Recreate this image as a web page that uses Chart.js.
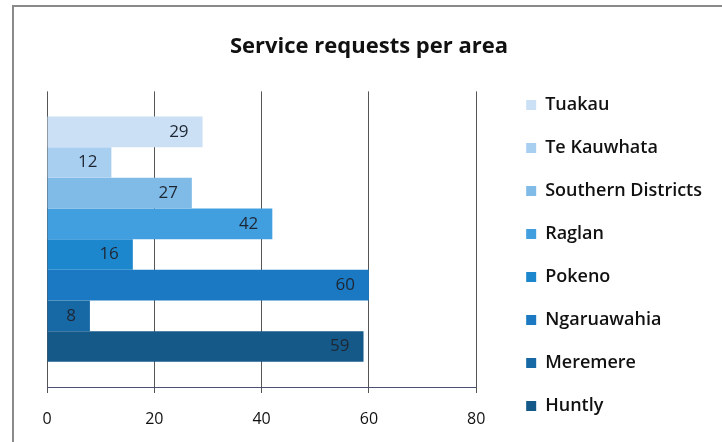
<!DOCTYPE html>
<html>
<head>
<meta charset="utf-8">
<script src="https://cdn.jsdelivr.net/npm/chart.js@4/dist/chart.umd.min.js"></script>
<style>
  body { margin: 0; background: #fff; }
  #wrap { position: relative; width: 722px; height: 442px; overflow: hidden; }
  #frame { position: absolute; left: 12px; top: 5px; width: 800px; height: 500px; border: 2px solid #8a8a8a; }
  #chart { position: absolute; left: 0; top: 0; }
</style>
</head>
<body>
<div id="wrap">
  <div id="frame"></div>
  <canvas id="chart" width="722" height="442"></canvas>
</div>
<script>
const areas = ['Tuakau', 'Te Kauwhata', 'Southern Districts', 'Raglan', 'Pokeno', 'Ngaruawahia', 'Meremere', 'Huntly'];
const requests = [29, 12, 27, 42, 16, 60, 8, 59];
const colours = ['#cbe0f4', '#a9cff0', '#80bbe8', '#419fe0', '#1d87cd', '#1a79c2', '#1769a6', '#145988'];
const xTicks = [0, 20, 40, 60, 80];

// labels at the end of each bar, inside
const barLabels = {
    id: 'barLabels',
    afterDatasetsDraw(chart) {
        const ctx = chart.ctx;
        ctx.save();
        ctx.font = '17px "Open Sans"';
        ctx.fillStyle = '#1e2633';
        ctx.textAlign = 'right';
        ctx.textBaseline = 'middle';
        chart.data.datasets.forEach((ds, i) => {
            chart.getDatasetMeta(i).data.forEach((bar, j) => {
                ctx.fillText(ds.data[j], bar.x - 14, bar.y);
            });
        });
        ctx.restore();
    }
};

const ctx = document.getElementById('chart').getContext('2d');
const myChart = new Chart(ctx, {
    type: 'bar',
    data: {
        labels: [''],
        datasets: areas.map((a, i) => ({
            label: a,
            data: [requests[i]],
            backgroundColor: colours[i],
            barPercentage: 1,
            categoryPercentage: 0.83
        }))
    },
    options: {
        indexAxis: 'y',
        responsive: false,
        animation: false,
        layout: {
            padding: { left: 26, top: 0, bottom: 0, right: 10 }
        },
        scales: {
            x: {
                min: 0,
                max: 80,
                afterBuildTicks: (axis) => {
                    axis.ticks = xTicks.map(v => ({ value: v }));
                },
                afterFit: (axis) => { axis.height = 55; },
                grid: {
                    color: '#555',
                    tickLength: 6
                },
                border: {
                    color: '#4a5070'
                },
                ticks: {
                    padding: 18,
                    color: '#111',
                    font: { family: 'Open Sans', size: 16, lineHeight: 1 }
                }
            },
            y: {
                display: false,
                afterFit: (axis) => { axis.width = 21; }
            },
            // hidden axis only to keep a gap before the legend
            gap: {
                axis: 'y',
                position: 'right',
                display: false,
                afterFit: (axis) => { axis.width = 25; }
            }
        },
        plugins: {
            title: {
                display: true,
                text: 'Service requests per area',
                color: '#111',
                font: { family: 'Open Sans', size: 22, weight: 'bold' },
                padding: { top: 34, bottom: 31 }
            },
            legend: {
                position: 'right',
                align: 'start',
                title: {
                    display: true,
                    text: ' ',
                    font: { size: 10 },
                    padding: { top: 59, bottom: 0 }
                },
                labels: {
                    boxWidth: 10,
                    boxHeight: 10,
                    padding: 25,
                    color: '#111',
                    font: { family: 'Open Sans', size: 18, weight: '600' }
                }
            },
            tooltip: {
                enabled: false
            }
        }
    },
    plugins: [barLabels]
});
</script>
</body>
</html>
